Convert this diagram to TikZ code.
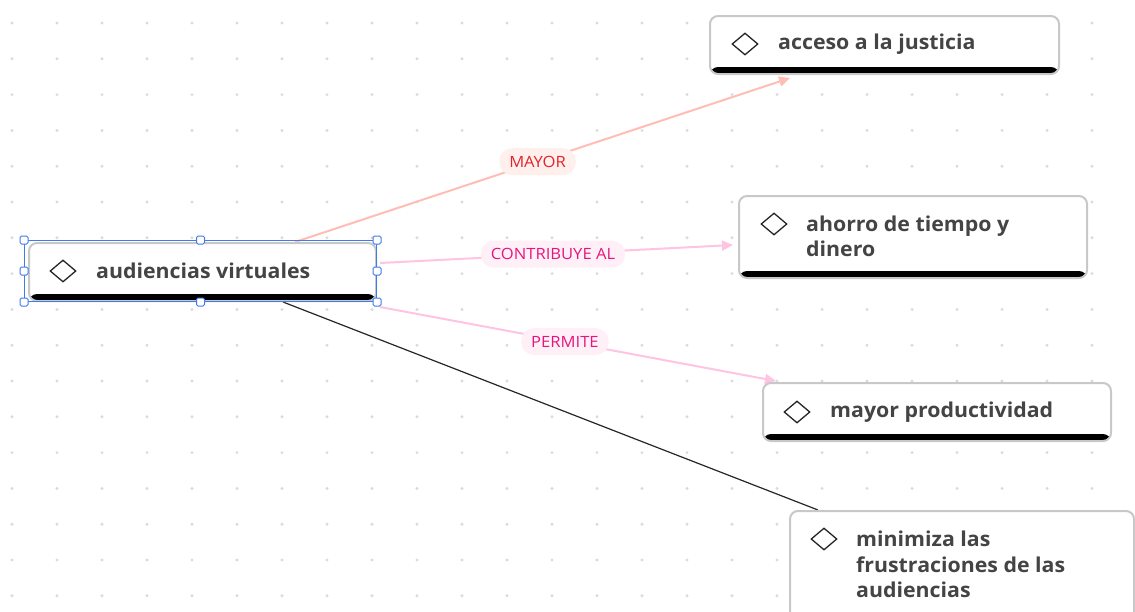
\documentclass[tikz,border=0pt]{standalone}
\usepackage{fontspec}
\setmainfont{Open Sans}
\newfontfamily\boxfont{Open Sans}[FakeStretch=1.04]
\newfontfamily\pillfont{Open Sans}[FakeStretch=1.07]
\usetikzlibrary{arrows.meta,shapes.geometric,calc}
\definecolor{txt}{HTML}{444444}
\definecolor{dotc}{HTML}{DADADA}
\definecolor{cardb}{HTML}{C8C8C8}
\definecolor{selc}{HTML}{3F7BEA}
\definecolor{lsal}{HTML}{FFBDB5}
\definecolor{lpink}{HTML}{FFC4E2}
\definecolor{tred}{HTML}{E3242B}
\definecolor{tmag}{HTML}{E5177E}
\definecolor{bgsal}{HTML}{FFF0EE}
\definecolor{bgpink}{HTML}{FFF0F7}
\tikzset{
  card/.style={draw=cardb, line width=2pt, fill=white, rounded corners=8pt, inner sep=0pt, anchor=north west,
    path picture={\fill[black] ([yshift=7pt]path picture bounding box.south west) rectangle (path picture bounding box.south east);}},
  ico/.style={diamond, draw=black!85, line width=1.3pt, inner sep=0pt, minimum width=26pt, minimum height=22pt},
  lbl/.style={font=\boxfont\fontsize{20.5}{25.5}\selectfont\bfseries, text=txt, anchor=west, inner sep=0pt, align=left},
  pill/.style={rounded corners=13pt, inner xsep=10pt, inner ysep=0pt, minimum height=27pt, font=\pillfont\fontsize{15.5}{17}\selectfont},
  pillsal/.style={pill, fill=bgsal, text=tred},
  pillpink/.style={pill, fill=bgpink, text=tmag},
  conn/.style={line width=2pt, -{Triangle[length=11pt,width=10pt]}},
  handle/.style={draw=selc, fill=white, line width=1pt, minimum size=8pt, inner sep=0pt, rounded corners=1.5pt}
}
\begin{document}
\begin{tikzpicture}[x=1pt,y=-1pt]
\useasboundingbox (0,0) rectangle (1135,611);
\fill[white] (0,0) rectangle (1135,611);
\foreach \i in {0,...,25} \foreach \j in {0,...,16} \fill[dotc] (12+45*\i, 23+35.8*\j) circle (1.6pt);

% invisible placeholders giving the card positions
\path
  (28,242) node[card, minimum width=347pt, minimum height=58pt, draw=none, fill=none, path picture={}] (A) {}
  (709,15) node[card, minimum width=349pt, minimum height=58pt, draw=none, fill=none, path picture={}] (B) {}
  (738,195) node[card, minimum width=348pt, minimum height=82pt, draw=none, fill=none, path picture={}] (C) {}
  (762,382) node[card, minimum width=348pt, minimum height=58pt, draw=none, fill=none, path picture={}] (D) {}
  (789,510) node[card, minimum width=344pt, minimum height=120pt, draw=none, fill=none, path picture={}] (E) {};

% connectors
\draw[conn, lsal] ($(A.north west)+(267,0)$) -- node[pos=0.49, pillsal] {MAYOR} ($(B.south west)+(81,3)$);
\draw[conn, lpink] ($(A.east)+(3,-9)$) -- node[pos=0.49, pillpink] {CONTRIBUYE AL} ($(C.west)+(-5,8)$);
\draw[conn, lpink] ($(A.south east)+(3,5)$) -- node[pos=0.467, pillpink] {PERMITE} ($(D.north west)+(14,-1)$);
\draw[line width=1.2pt, black!85] ($(A.south west)+(255,0)$) -- ($(E.north west)+(29,0)$);

% visible cards
\node[card, minimum width=347pt, minimum height=58pt] at (A.north west) {};
\node[card, minimum width=349pt, minimum height=58pt] at (B.north west) {};
\node[card, minimum width=348pt, minimum height=82pt] at (C.north west) {};
\node[card, minimum width=348pt, minimum height=58pt] at (D.north west) {};
\node[card, minimum width=344pt, minimum height=120pt] at (E.north west) {};

\node[ico] (Ai) at (63,271) {};
\node[lbl] (At) at (96,271) {audiencias virtuales};
\node[ico] (Bi) at (745,44) {};
\node[lbl] (Bt) at (778,44) {acceso a la justicia};
\node[ico] (Ci) at (774,224) {};
\node[lbl] (Ct) at (806,236.5) {ahorro de tiempo y\\dinero};
\node[ico] (Di) at (797,412) {};
\node[lbl] (Dt) at (830,412) {mayor productividad};
\node[ico] (Ei) at (824,539) {};
\node[lbl] (Et) at (856,564.5) {minimiza las\\frustraciones de las\\audiencias};

% selection
\node[draw=selc, line width=1pt, minimum width=352pt, minimum height=61pt, anchor=north west, inner sep=0pt] (S) at (24,240) {};
\foreach \a in {north west, north, north east, west, east, south west, south, south east}
  \node[handle] at (S.\a) {};
\end{tikzpicture}
\end{document}
